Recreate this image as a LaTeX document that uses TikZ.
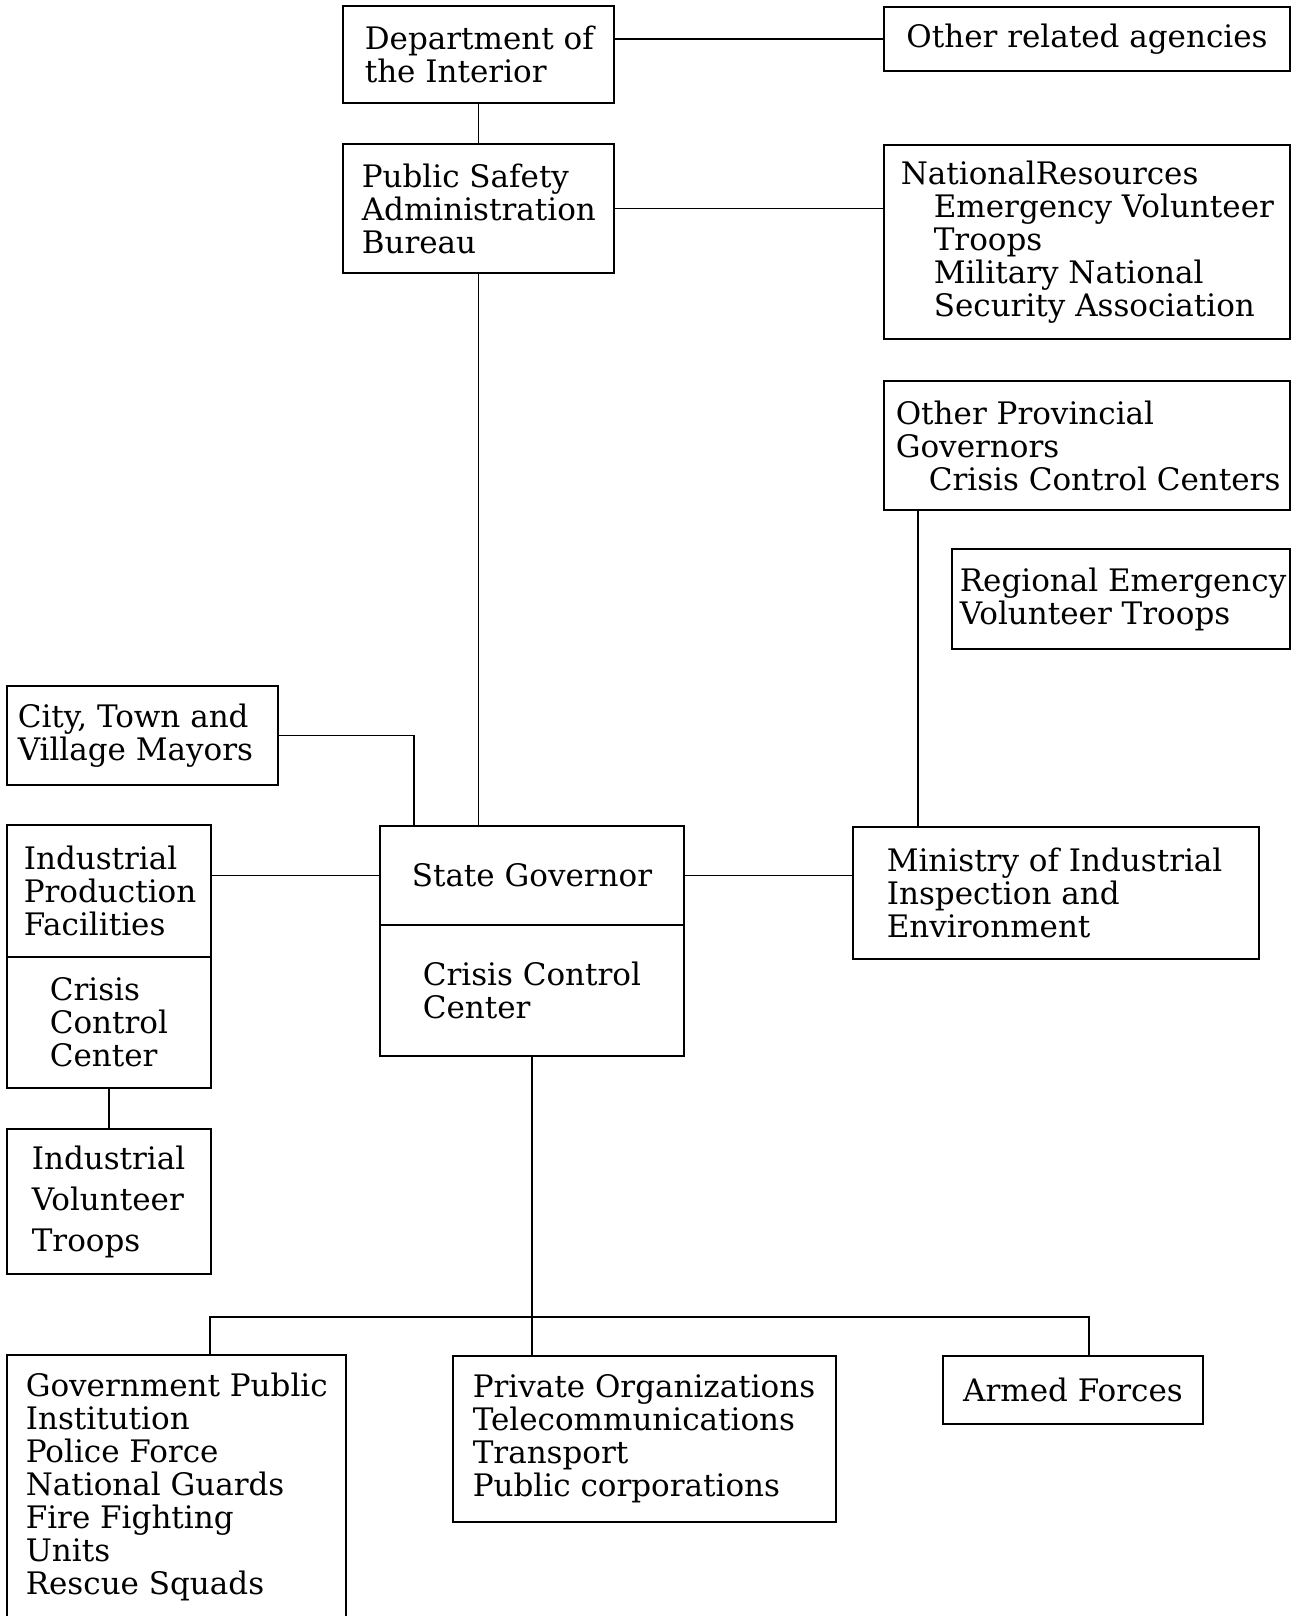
\documentclass[tikz,border=0pt]{standalone}
\usepackage{fontspec}
\setmainfont{DejaVu Serif}

\begin{document}
\begin{tikzpicture}[x=1pt,y=-1pt,
  every path/.style={line width=1.6pt},
  box/.style={draw,rectangle,inner sep=0pt,outer sep=0pt},
  txt/.style={align=left,inner sep=0pt,anchor=west,font=\fontsize{31}{33}\selectfont}]
\useasboundingbox (0,0) rectangle (1294,1616);
\node[box,minimum width=271pt,minimum height=97pt] (dept) at (478.5,54.5) {};
\node[txt] (deptt) at ([xshift=21pt]dept.west) {Department of\\the Interior};
\node[box,minimum width=406pt,minimum height=64pt] (other) at (1087,39) {};
\node[txt,anchor=center] (othert) at (other) {Other related agencies};
\node[box,minimum width=271pt,minimum height=129pt] (psab) at (478.5,208.5) {};
\node[txt] (psabt) at ([xshift=18pt]psab.west) {Public Safety\\Administration\\Bureau};
\node[box,minimum width=406pt,minimum height=194pt] (natres) at (1087,242) {};
\node[txt] (natrest) at ([xshift=16pt]natres.west) {NationalResources\\\hspace*{33pt}Emergency Volunteer\\\hspace*{33pt}Troops\\\hspace*{33pt}Military National\\\hspace*{33pt}Security Association};
\node[box,minimum width=406pt,minimum height=129pt] (prov) at (1087,445.5) {};
\node[txt] (provt) at ([xshift=11pt]prov.west) {Other Provincial\\Governors\\\hspace*{33pt}Crisis Control Centers};
\node[box,minimum width=338pt,minimum height=100pt] (region) at (1121,599) {};
\node[txt] (regiont) at ([xshift=7pt]region.west) {Regional Emergency\\Volunteer Troops};
\node[box,minimum width=271pt,minimum height=99pt] (mayor) at (142.5,735.5) {};
\node[txt] (mayort) at ([xshift=10pt]mayor.west) {City, Town and\\Village Mayors};
\node[box,minimum width=204pt,minimum height=132pt] (plant) at (109,891) {};
\node[txt] (plantt) at ([xshift=16pt]plant.west) {Industrial\\Production\\Facilities};
\node[box,minimum width=204pt,minimum height=131pt] (plantccc) at (109,1022.5) {};
\node[txt] (plantccct) at ([xshift=42pt]plantccc.west) {Crisis\\Control\\Center};
\node[box,minimum width=204pt,minimum height=145pt] (plantvol) at (109,1201.5) {};
\node[txt] (plantvolt) at ([xshift=24pt]plantvol.west) {Industrial\\[8pt]Volunteer\\[8pt]Troops};
\node[box,minimum width=304pt,minimum height=99pt] (gov) at (532,875.5) {};
\node[txt,anchor=center] (govt) at (gov) {State Governor};
\node[box,minimum width=304pt,minimum height=131pt] (govccc) at (532,990.5) {};
\node[txt] (govccct) at ([xshift=42pt]govccc.west) {Crisis Control\\Center};
\node[box,minimum width=406pt,minimum height=132pt] (mist) at (1056,893) {};
\node[txt] (mistt) at ([xshift=33pt]mist.west) {Ministry of Industrial\\Inspection and\\Environment};
\node[box,minimum width=339pt,minimum height=264pt] (public) at (176.5,1487) {};
\node[txt] (publict) at ([xshift=18pt]public.west) {Government Public\\Institution\\Police Force\\National Guards\\Fire Fighting\\Units\\Rescue Squads};
\node[box,minimum width=383pt,minimum height=166pt] (private) at (644.5,1439) {};
\node[txt] (privatet) at ([xshift=19pt]private.west) {Private Organizations\\Telecommunications\\Transport\\Public corporations};
\node[box,minimum width=260pt,minimum height=68pt] (army) at (1073,1390) {};
\node[txt,anchor=center] (armyt) at (army) {Armed Forces};
\draw (dept.east |- other.west) -- (other.west);
\draw (dept.south) -- (psab.north);
\draw (psab.east) -- (psab.east -| natres.west);
\draw (psab.south) -- (psab.south |- gov.north);
\draw (mayor.east) -| ([xshift=34pt]gov.north west);
\draw (gov.west) -- (gov.west -| plant.east);
\draw (gov.east) -- (gov.east -| mist.west);
\draw ([xshift=34pt]prov.south west) -- ([xshift=34pt]prov.south west |- mist.north);
\draw (plantccc.south) -- (plantvol.north);
\coordinate (busl) at (210,1317);
\coordinate (busr) at (1089,1317);
\draw (govccc.south) -- (govccc.south |- private.north);
\draw (public.north -| busl) -- (busl) -- (busr) -- (busr |- army.north);
\end{tikzpicture}
\end{document}
